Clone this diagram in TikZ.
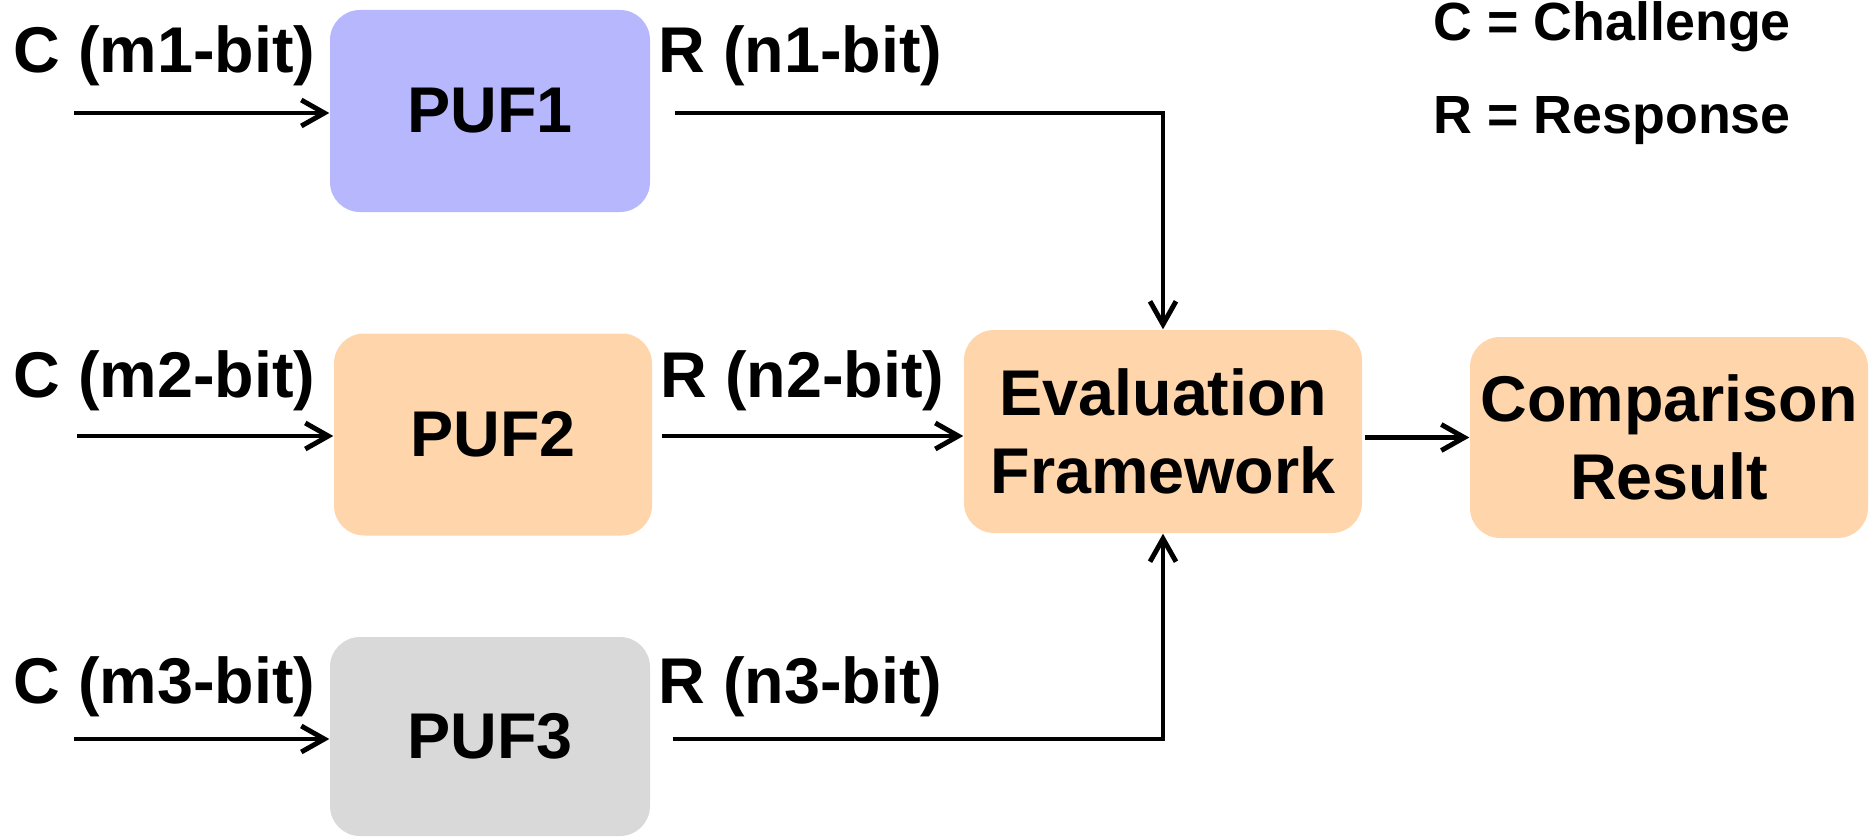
\documentclass[tikz,border=0pt]{standalone}
\usepackage{fontspec}
\setmainfont{Liberation Sans}
\usetikzlibrary{arrows.meta,positioning}
\definecolor{pufblue}{RGB}{183,183,253}
\definecolor{peach}{RGB}{255,214,172}
\definecolor{pufgray}{RGB}{217,217,217}

\begin{document}
\begin{tikzpicture}[
  font=\fontsize{18.4}{22}\selectfont\bfseries,
  blk/.style={rectangle, rounded corners=0.3cm, minimum width=3.2cm, minimum height=2.02cm, align=center, inner sep=0pt},
  lbl/.style={anchor=base west, inner sep=0pt},
  keytext/.style={lbl, font=\fontsize{15.3}{18}\selectfont\bfseries},
  arr/.style={-{Straight Barb[length=2.3mm,width=2.6mm]}, line width=1.4pt}
]
\useasboundingbox (0,0) rectangle (18.7,-8.37);

% blocks
\node[blk, fill=pufblue] (puf1) at (4.90,-1.11) {PUF1};
\node[blk, fill=peach, minimum width=3.18cm] (puf2) at (4.93,-4.345) {PUF2};
\node[blk, fill=pufgray, minimum height=1.99cm] (puf3) at (4.90,-7.365) {PUF3};
\node[blk, fill=peach, minimum width=3.98cm, minimum height=2.03cm] (eval) at (11.63,-4.315) {Evaluation\\Framework};
\node[blk, fill=peach, minimum width=3.98cm, minimum height=2.01cm] (comp) at (16.69,-4.375) {Comparison\\Result};

% challenge inputs
\coordinate (in1) at (0.74,-1.13);
\coordinate (in2) at (0.77,-4.36);
\coordinate (in3) at (0.74,-7.39);
\draw[arr] (in1) -- (in1 -| puf1.west);
\draw[arr] (in2) -- (in2 -| puf2.west);
\draw[arr] (in3) -- (in3 -| puf3.west);

% responses
\draw[arr] ([xshift=2.4mm]in1 -| puf1.east) -| (eval.north);
\draw[arr] ([xshift=0.9mm]in2 -| puf2.east) -- (in2 -| eval.west);
\draw[arr] ([xshift=2.2mm]in3 -| puf3.east) -| (eval.south);
\draw[arr] ([xshift=0.2mm]comp.west -| eval.east) -- (comp.west);

% labels
\node[lbl] (c1) at (0.13,-0.72) {C (m1-bit)};
\node[lbl] (r1) at (6.58,-0.72) {R (n1-bit)};
\node[lbl] (c2) at (0.13,-3.97) {C (m2-bit)};
\node[lbl] (r2) at (6.60,-3.97) {R (n2-bit)};
\node[lbl] (c3) at (0.13,-7.03) {C (m3-bit)};
\node[lbl] (r3) at (6.58,-7.03) {R (n3-bit)};

\node[keytext] (keyc) at (14.33,-0.40) {C = Challenge};
\node[keytext] (keyr) at (14.33,-1.33) {R = Response};
\end{tikzpicture}
\end{document}
